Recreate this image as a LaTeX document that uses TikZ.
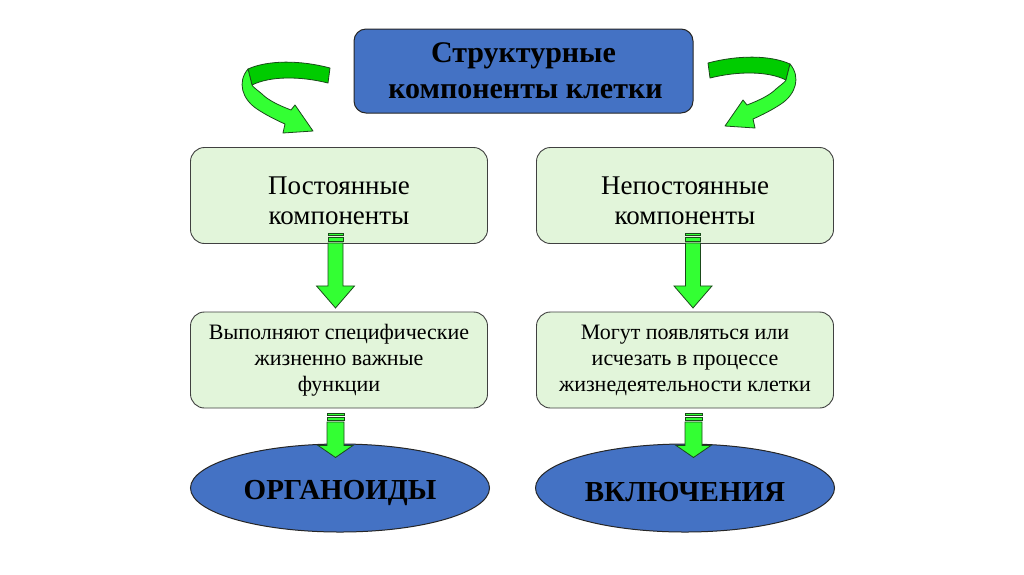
\documentclass[tikz,border=0pt]{standalone}
\usepackage{fontspec}
\setmainfont{Liberation Serif}
\usetikzlibrary{shapes.geometric,calc}
\definecolor{boxblue}{HTML}{4472C4}
\definecolor{boxgreen}{HTML}{E2F5DA}
\definecolor{arrgreen}{HTML}{33FF33}
\definecolor{arrdark}{HTML}{00CC00}
\definecolor{edgegreen}{HTML}{1A4A1A}
\tikzset{
  topbox/.style={draw=black!85, fill=boxblue, rounded corners=12pt, line width=1pt,
    minimum width=339pt, minimum height=84pt, align=center,
    font=\fontsize{30}{36}\selectfont\bfseries},
  greenbox/.style={draw=black!75, fill=boxgreen, rounded corners=14pt, line width=0.9pt,
    minimum width=297pt, minimum height=96pt, align=center},
  bigtext/.style={font=\fontsize{27}{30}\selectfont},
  smalltext/.style={font=\fontsize{22}{26}\selectfont},
  oval/.style={ellipse, draw=black!85, fill=boxblue, line width=1pt,
    minimum width=299pt, minimum height=88pt, inner sep=0pt,
    font=\fontsize{29}{34}\selectfont\bfseries},
  blockarrow/.style={draw=edgegreen, fill=arrgreen, line width=0.8pt, line join=miter},
  ribbonlight/.style={draw=edgegreen, fill=arrgreen, line width=0.8pt, line join=round},
  ribbondark/.style={draw=edgegreen, fill=arrdark, line width=0.8pt, line join=round}
}
\newcommand\lowerit[2]{\raisebox{-#1}[\height][\depth]{#2}}
\newcommand\upperarrow[1]{%
  \begin{scope}[shift={(#1)}]
    \filldraw[blockarrow] (-7.5,-11) rectangle (7.5,-9);
    \filldraw[blockarrow] (-7.5,-7) rectangle (7.5,-3);
    \filldraw[blockarrow] (-7.5,-1) -- (7.5,-1) -- (7.5,42) -- (19,42) -- (0,64)
      -- (-19,42) -- (-7.5,42) -- cycle;
  \end{scope}}
\newcommand\lowerarrow[1]{%
  \begin{scope}[shift={(#1)}]
    \filldraw[blockarrow] (-8.5,5) rectangle (8.5,7);
    \filldraw[blockarrow] (-8.5,9) rectangle (8.5,12);
    \filldraw[blockarrow] (-8.5,13.5) -- (8.5,13.5) -- (8.5,37) -- (17.5,37) -- (0,49)
      -- (-17.5,37) -- (-8.5,37) -- cycle;
  \end{scope}}
\newcommand\curlarrow{%
  \filldraw[ribbondark] (330,68) .. controls (300,60) and (268,60) .. (248,69)
    -- (252,85) .. controls (270,76) and (300,76) .. (328,83) -- cycle;
  \filldraw[ribbonlight] (248,69) .. controls (237,82) and (242,99) .. (257,109)
    .. controls (266,115) and (276,120) .. (285,124)
    -- (283,133) -- (313,131) -- (295,105) -- (291,110)
    .. controls (278,105) and (268,100) .. (262,94)
    .. controls (256,89) and (253,87) .. (252,85) -- cycle;}
\begin{document}
\begin{tikzpicture}[x=1pt,y=-1pt]
\useasboundingbox (0,0) rectangle (1024,574);
\fill[white] (0,0) rectangle (1024,574);

\node[topbox] (top) at (523.5,71) {Структурные\\\hspace*{4pt}компоненты клетки};

\node[greenbox, bigtext] (p1) at (339,195.5) {\lowerit{7.5pt}{\begin{tabular}{@{}c@{}}Постоянные\\ компоненты\end{tabular}}};
\node[greenbox, bigtext] (p2) at (685,195.5) {\lowerit{7.5pt}{\begin{tabular}{@{}c@{}}Непостоянные\\ компоненты\end{tabular}}};

\node[greenbox, smalltext] (m1) at (339,360) {Выполняют специфические\\жизненно важные\\функции};
\node[greenbox, smalltext] (m2) at (685,360) {Могут появляться или\\исчезать в процессе\\жизнедеятельности клетки};

\node[oval] (o1) at (340,488) {\lowerit{4.5pt}{ОРГАНОИДЫ}};
\node[oval] (o2) at (685,488) {\lowerit{4.5pt}{ВКЛЮЧЕНИЯ}};

\upperarrow{$(p1.south)+(-3.5,0)$}
\upperarrow{$(p2.south)+(8,0)$}
\lowerarrow{$(m1.south)+(-3.5,0)$}
\lowerarrow{$(m2.south)+(8.5,0)$}

\curlarrow
\begin{scope}[shift={(1038,-5)}, xscale=-1]
  \curlarrow
\end{scope}
\end{tikzpicture}
\end{document}
